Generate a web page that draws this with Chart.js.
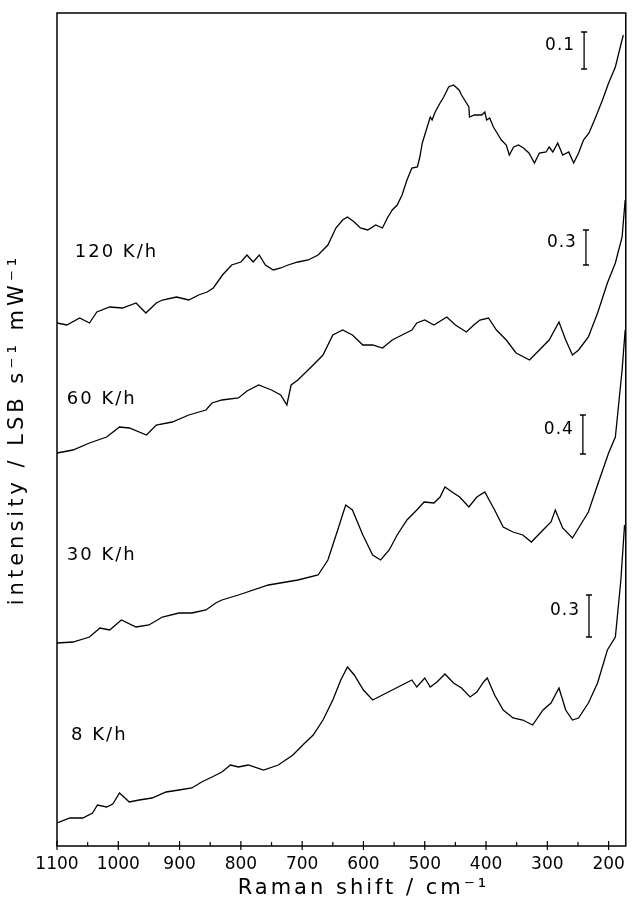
<!DOCTYPE html>
<html><head><meta charset="utf-8">
<script src="https://cdn.jsdelivr.net/npm/chart.js@4.4.1/dist/chart.umd.min.js"></script>
<style>html,body{margin:0;padding:0;background:#fff}</style>
</head><body>
<canvas id="c" width="633" height="903"></canvas>
<script>
// ---- data (Raman shift in cm^-1, stacked intensity in display units) ----
const wn120 = [1100,1084,1063,1047,1035,1014,993,971,955,938,928,905,885,869,855,845,830,815,800,790,780,770,760,747,735,723,707,690,674,658,645,634,626,615,605,593,580,569,561,553,545,537,529,521,512,508,504,496,491,488,483,475,469,461,453,444,440,435,428,427,419,407,402,399,394,388,383,375,367,362,355,347,339,330,321,313,302,297,291,283,275,265,257,249,241,232,221,210,200,189,181,176];
const int120 = [5.23,5.21,5.28,5.23,5.34,5.39,5.38,5.43,5.33,5.43,5.46,5.49,5.46,5.51,5.54,5.58,5.71,5.81,5.84,5.91,5.84,5.91,5.81,5.76,5.78,5.81,5.84,5.86,5.91,6.01,6.18,6.26,6.29,6.24,6.18,6.16,6.21,6.18,6.28,6.36,6.41,6.51,6.66,6.78,6.79,6.89,7.03,7.19,7.29,7.26,7.34,7.43,7.49,7.59,7.61,7.56,7.51,7.46,7.39,7.29,7.31,7.31,7.34,7.26,7.28,7.19,7.14,7.06,7.01,6.91,6.99,7.01,6.98,6.93,6.83,6.93,6.94,6.99,6.94,7.03,6.91,6.94,6.83,6.93,7.06,7.13,7.29,7.46,7.63,7.79,7.99,8.11];

const wn60 = [1100,1074,1047,1019,998,982,954,938,912,885,857,847,831,804,790,771,750,735,725,718,707,682,666,650,634,618,601,585,569,553,537,521,513,500,485,464,450,432,420,410,396,383,367,351,329,313,297,281,270,259,249,233,218,202,189,178,173];
const int60 = [3.93,3.96,4.03,4.09,4.19,4.18,4.11,4.21,4.24,4.31,4.36,4.43,4.46,4.48,4.55,4.61,4.56,4.51,4.41,4.61,4.66,4.81,4.91,5.11,5.16,5.11,5.01,5.01,4.98,5.06,5.11,5.16,5.23,5.26,5.21,5.29,5.21,5.14,5.21,5.26,5.28,5.16,5.06,4.93,4.86,4.96,5.06,5.24,5.06,4.91,4.96,5.09,5.33,5.63,5.83,6.09,6.46];

const wn30 = [1100,1074,1047,1030,1014,995,971,950,928,901,880,857,841,831,804,755,707,674,658,642,629,618,601,585,572,558,545,529,513,501,485,475,467,453,443,428,415,402,386,372,356,340,326,307,294,287,275,259,249,233,217,200,189,178,173];
const int30 = [2.03,2.04,2.09,2.18,2.16,2.26,2.19,2.21,2.29,2.33,2.33,2.36,2.43,2.46,2.51,2.61,2.66,2.71,2.86,3.16,3.41,3.36,3.11,2.91,2.86,2.96,3.11,3.26,3.36,3.44,3.43,3.49,3.59,3.53,3.49,3.39,3.49,3.54,3.36,3.19,3.14,3.11,3.04,3.16,3.24,3.36,3.18,3.08,3.18,3.34,3.63,3.93,4.09,4.76,5.16];

const wn8 = [1100,1079,1058,1042,1034,1019,1009,998,982,966,945,922,901,880,864,847,831,817,804,788,763,739,715,699,682,666,650,637,626,615,600,585,569,553,537,521,513,500,491,480,467,453,440,426,415,404,398,386,372,356,340,324,307,294,281,270,259,249,233,218,202,189,180,174];
const int8 = [0.23,0.28,0.28,0.33,0.41,0.39,0.42,0.53,0.44,0.46,0.48,0.54,0.56,0.58,0.64,0.69,0.74,0.81,0.79,0.81,0.76,0.81,0.91,1.01,1.11,1.26,1.46,1.66,1.79,1.71,1.56,1.46,1.51,1.56,1.61,1.66,1.59,1.68,1.59,1.64,1.72,1.63,1.58,1.49,1.54,1.64,1.68,1.51,1.36,1.28,1.26,1.21,1.36,1.43,1.58,1.36,1.26,1.28,1.43,1.63,1.96,2.09,2.66,3.21];

const seriesLabels = ['120 K/h', '60 K/h', '30 K/h', '8 K/h'];
const scaleBarLabels = ['0.1', '0.3', '0.4', '0.3'];
const scaleBarX = [240, 237, 242, 232];
const scaleBarLow = [7.77, 5.81, 3.92, 2.09];
const scaleBarHigh = [8.14, 6.16, 4.31, 2.51];
const xTicks = [1100, 1000, 900, 800, 700, 600, 500, 400, 300, 200];
const xMinorTicks = [1050, 950, 850, 750, 650, 550, 450, 350, 250];
const xTitle = 'Raman shift / cm⁻¹';
const yTitle = 'intensity / LSB s⁻¹ mW⁻¹';

// annotation anchors (data coordinates)
const labelAnchors = [{x:1071,y:5.94},{x:1084,y:4.47},{x:1084,y:2.91},{x:1077,y:1.11}];
const xTitleCenter = 600;

const spectra = [[wn120,int120],[wn60,int60],[wn30,int30],[wn8,int8]];
const datasets = spectra.map(([w,v],k)=>({
  label: seriesLabels[k],
  data: w.map((xv,i)=>({x:xv,y:v[i]})),
  borderColor:'#000', borderWidth:1.3, pointRadius:0, tension:0, fill:false
}));
scaleBarLabels.forEach((t,i)=>{
  datasets.push({
    label:'bar '+t,
    data:[{x:scaleBarX[i],y:scaleBarLow[i]},{x:scaleBarX[i],y:scaleBarHigh[i]}],
    borderColor:'#000', borderWidth:1.3, pointStyle:'line', pointRadius:3,
    pointBorderColor:'#000', pointBorderWidth:1.3, fill:false
  });
});

const overlay = {
  id:'overlay',
  afterDatasetsDraw(chart){
    const {ctx, chartArea:a, scales:{x,y}} = chart;
    ctx.save();
    ctx.strokeStyle='#000'; ctx.lineWidth=1.5;
    ctx.strokeRect(a.left,a.top,a.right-a.left,a.bottom-a.top);
    ctx.lineWidth=1.2;
    ctx.beginPath();
    xTicks.forEach(v=>{const p=x.getPixelForValue(v); ctx.moveTo(p,a.bottom-5); ctx.lineTo(p,a.bottom+4);});
    xMinorTicks.forEach(v=>{const p=x.getPixelForValue(v); ctx.moveTo(p,a.bottom-4); ctx.lineTo(p,a.bottom);});
    ctx.stroke();
    ctx.fillStyle='#000';
    ctx.textBaseline='middle';
    ctx.font='18px "DejaVu Sans"';
    ctx.letterSpacing='2px';
    ctx.textAlign='left';
    seriesLabels.forEach((t,i)=>{
      ctx.fillText(t, x.getPixelForValue(labelAnchors[i].x), y.getPixelForValue(labelAnchors[i].y));
    });
    ctx.font='17px "DejaVu Sans"';
    ctx.letterSpacing='1px';
    ctx.textAlign='right';
    scaleBarLabels.forEach((t,i)=>{
      const px=x.getPixelForValue(scaleBarX[i]);
      const py=y.getPixelForValue((scaleBarLow[i]+scaleBarHigh[i])/2);
      ctx.fillText(t, px-9, py-5);
    });
    // axis titles
    ctx.textAlign='center';
    ctx.font='21px "DejaVu Sans"';
    ctx.letterSpacing='3px';
    ctx.fillText(xTitle, x.getPixelForValue(xTitleCenter), 889);
    ctx.save();
    ctx.translate(18, (a.top+a.bottom)/2);
    ctx.rotate(-Math.PI/2);
    ctx.font='21px "DejaVu Sans"';
    ctx.letterSpacing='4px';
    ctx.fillText(yTitle, 0, 0);
    ctx.restore();
    ctx.restore();
  }
};

new Chart(document.getElementById('c'), {
  type:'line',
  data:{datasets},
  plugins:[overlay],
  options:{
    responsive:false, animation:false,
    layout:{padding:{top:13,right:3,left:0,bottom:0}},
    plugins:{legend:{display:false}, tooltip:{enabled:false}},
    scales:{
      x:{type:'linear', reverse:true, min:172, max:1100,
        afterBuildTicks:s=>{s.ticks=xTicks.map(v=>({value:v}));},
        afterFit:s=>{s.height=57;},
        grid:{display:false, drawTicks:false}, border:{display:false},
        ticks:{color:'#000', font:{family:'DejaVu Sans', size:17}, padding:8, maxRotation:0, autoSkip:false,
          callback:v=>String(v)},
        title:{display:false}
      },
      y:{type:'linear', min:0, max:8.33,
        afterFit:s=>{s.width=57;},
        grid:{display:false, drawTicks:false}, border:{display:false},
        ticks:{display:false},
        title:{display:false}
      }
    }
  }
});
</script>
</body></html>
